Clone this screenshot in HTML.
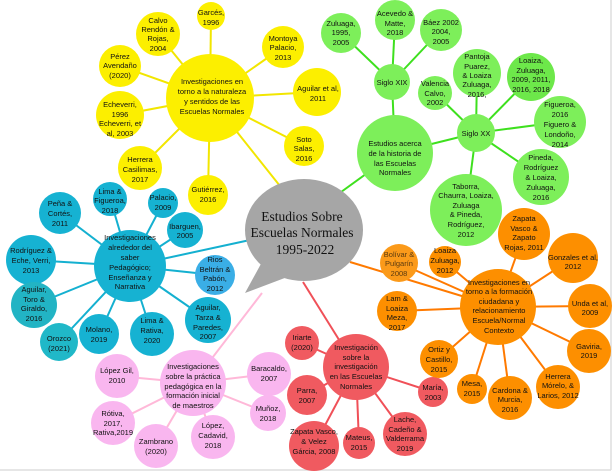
<!DOCTYPE html>
<html><head><meta charset="utf-8"><style>
html,body{margin:0;padding:0;background:#fff;}
svg{display:block;}
text{font-family:"Liberation Sans",sans-serif;font-size:7.5px;fill:#111;text-anchor:middle;}
.c text{font-size:7.5px}
</style></head><body>
<svg width="616" height="473" viewBox="0 0 616 473" xmlns="http://www.w3.org/2000/svg">
<rect width="616" height="473" fill="#fff"/>
<line x1="611" y1="0" x2="611" y2="470" stroke="#ddd" stroke-width="1.5"/>
<line x1="0" y1="470" x2="611" y2="470" stroke="#ddd" stroke-width="1.5"/>

<!-- yellow lines -->
<g stroke="#f2e600" stroke-width="2">
<line x1="210" y1="98" x2="280" y2="186"/>
<line x1="210" y1="98" x2="211" y2="15"/>
<line x1="210" y1="98" x2="158" y2="34"/>
<line x1="210" y1="98" x2="283" y2="47"/>
<line x1="210" y1="98" x2="120" y2="66"/>
<line x1="210" y1="98" x2="317" y2="92"/>
<line x1="210" y1="98" x2="120" y2="115"/>
<line x1="210" y1="98" x2="304" y2="146"/>
<line x1="210" y1="98" x2="140" y2="168"/>
<line x1="210" y1="98" x2="208" y2="195"/>
</g>
<!-- green lines -->
<g stroke="#3ee01e" stroke-width="2">
<line x1="395" y1="153" x2="330" y2="200"/>
<line x1="395" y1="153" x2="392" y2="82"/>
<line x1="395" y1="153" x2="476" y2="133"/>
<line x1="392" y1="82" x2="341" y2="33"/>
<line x1="392" y1="82" x2="395" y2="20"/>
<line x1="392" y1="82" x2="441" y2="30"/>
<line x1="476" y1="133" x2="435" y2="93"/>
<line x1="476" y1="133" x2="477" y2="73"/>
<line x1="476" y1="133" x2="531" y2="77"/>
<line x1="476" y1="133" x2="560" y2="122"/>
<line x1="476" y1="133" x2="541" y2="177"/>
<line x1="476" y1="133" x2="466" y2="210"/>
</g>
<!-- blue lines -->
<g stroke="#14b0d0" stroke-width="2">
<line x1="130" y1="266" x2="250" y2="240"/>
<line x1="130" y1="266" x2="110" y2="198"/>
<line x1="130" y1="266" x2="163" y2="203"/>
<line x1="130" y1="266" x2="185" y2="230"/>
<line x1="130" y1="266" x2="60" y2="213"/>
<line x1="130" y1="266" x2="31" y2="260"/>
<line x1="130" y1="266" x2="34" y2="305"/>
<line x1="130" y1="266" x2="59" y2="342"/>
<line x1="130" y1="266" x2="99" y2="335"/>
<line x1="130" y1="266" x2="152" y2="334"/>
<line x1="130" y1="266" x2="208" y2="320"/>
<line x1="130" y1="266" x2="215" y2="275"/>
</g>
<!-- pink lines -->
<g stroke="#ffb8d8" stroke-width="2">
<line x1="193" y1="383" x2="262" y2="293"/>
<line x1="193" y1="383" x2="117" y2="376"/>
<line x1="193" y1="383" x2="269" y2="374"/>
<line x1="193" y1="383" x2="113" y2="423"/>
<line x1="193" y1="383" x2="268" y2="413"/>
<line x1="193" y1="383" x2="156" y2="446"/>
<line x1="193" y1="383" x2="213" y2="437"/>
</g>
<!-- red lines -->
<g stroke="#f05058" stroke-width="2">
<line x1="356" y1="367" x2="303" y2="282"/>
<line x1="356" y1="367" x2="302" y2="343"/>
<line x1="356" y1="367" x2="307" y2="395"/>
<line x1="356" y1="367" x2="314" y2="446"/>
<line x1="356" y1="367" x2="359" y2="443"/>
<line x1="356" y1="367" x2="405" y2="434"/>
<line x1="356" y1="367" x2="433" y2="392"/>
</g>
<!-- orange lines -->
<g stroke="#ff7a00" stroke-width="2">
<line x1="498" y1="307" x2="350" y2="262"/>
<line x1="498" y1="307" x2="399" y2="263"/>
<line x1="498" y1="307" x2="445" y2="262"/>
<line x1="498" y1="307" x2="524" y2="234"/>
<line x1="498" y1="307" x2="573" y2="258"/>
<line x1="498" y1="307" x2="590" y2="306"/>
<line x1="498" y1="307" x2="589" y2="351"/>
<line x1="498" y1="307" x2="558" y2="387"/>
<line x1="498" y1="307" x2="510" y2="398"/>
<line x1="498" y1="307" x2="472" y2="389"/>
<line x1="498" y1="307" x2="439" y2="359"/>
<line x1="498" y1="307" x2="397" y2="311"/>
</g>

<!-- gray bubble -->
<g fill="#a6a6a6">
<ellipse cx="304" cy="230" rx="59" ry="51"/>
<path d="M262,262 L245,293 L290,276 Z"/>
</g>
<g style="font-family:'Liberation Serif',serif;font-size:13.5px">
<text x="302" y="221" style="font-size:13.5px;font-family:'Liberation Serif',serif">Estudios Sobre</text>
<text x="302" y="237" style="font-size:13.5px;font-family:'Liberation Serif',serif">Escuelas Normales</text>
<text x="305" y="254" style="font-size:13.5px;font-family:'Liberation Serif',serif">1995-2022</text>
</g>

<!-- yellow nodes -->
<g fill="#fcef00">
<circle cx="210" cy="98" r="44"/>
<circle cx="211" cy="16" r="14"/>
<circle cx="158" cy="34" r="22"/>
<circle cx="283" cy="47" r="21"/>
<circle cx="120" cy="66" r="21"/>
<circle cx="317" cy="92" r="24"/>
<circle cx="120" cy="115" r="24"/>
<circle cx="304" cy="146" r="20"/>
<circle cx="140" cy="168" r="22"/>
<circle cx="208" cy="195" r="20"/>
</g>
<text x="212" y="84">Investigaciones en</text>
<text x="212" y="94">torno a la naturaleza</text>
<text x="212" y="104">y sentidos de las</text>
<text x="212" y="114">Escuelas Normales</text>
<text x="211" y="15">Garcés,</text><text x="211" y="25">1996</text>
<text x="158" y="23">Calvo</text><text x="158" y="32">Rendón &amp;</text><text x="158" y="41">Rojas,</text><text x="158" y="51">2004</text>
<text x="283" y="41">Montoya</text><text x="283" y="50">Palacio,</text><text x="283" y="60">2013</text>
<text x="120" y="59">Pérez</text><text x="120" y="68">Avendaño</text><text x="120" y="78">(2020)</text>
<text x="318" y="91">Aguilar et al,</text><text x="318" y="101">2011</text>
<text x="120" y="107">Echeverri,</text><text x="120" y="117">1996</text><text x="120" y="126">Echeverri, et</text><text x="120" y="136">al, 2003</text>
<text x="304" y="142">Soto</text><text x="304" y="151">Salas,</text><text x="304" y="161">2016</text>
<text x="140" y="162">Herrera</text><text x="140" y="172">Casilimas,</text><text x="140" y="182">2017</text>
<text x="208" y="192">Gutiérrez,</text><text x="208" y="202">2016</text>

<!-- green nodes -->
<g fill="#7def5a">
<circle cx="395" cy="153" r="38"/>
<circle cx="392" cy="82" r="18"/>
<circle cx="476" cy="133" r="19"/>
<circle cx="341" cy="33" r="20"/>
<circle cx="395" cy="20" r="20"/>
<circle cx="441" cy="30" r="21"/>
<circle cx="435" cy="93" r="17"/>
<circle cx="477" cy="73" r="24"/>
<circle cx="531" cy="77" r="24" fill="#6de84a"/>
<circle cx="560" cy="122" r="26"/>
<circle cx="541" cy="177" r="28"/>
<circle cx="466" cy="210" r="36"/>
</g>
<text x="395" y="146">Estudios acerca</text><text x="395" y="156">de la historia de</text><text x="395" y="166">las Escuelas</text><text x="395" y="175">Normales</text>
<text x="392" y="85">Siglo XIX</text>
<text x="476" y="136">Siglo XX</text>
<text x="341" y="26">Zuluaga,</text><text x="341" y="35">1995,</text><text x="341" y="45">2005</text>
<text x="395" y="16">Acevedo &amp;</text><text x="395" y="26">Matte,</text><text x="395" y="35">2018</text>
<text x="441" y="25">Báez 2002</text><text x="441" y="34">2004,</text><text x="441" y="44">2005</text>
<text x="435" y="86">Valencia</text><text x="435" y="96">Calvo,</text><text x="435" y="105">2002</text>
<text x="477" y="59">Pantoja</text><text x="477" y="69">Puarez,</text><text x="477" y="78">&amp; Loaiza</text><text x="477" y="87">Zuluaga,</text><text x="477" y="97">2016,</text>
<text x="531" y="63">Loaiza,</text><text x="531" y="73">Zuluaga,</text><text x="531" y="82">2009, 2011,</text><text x="531" y="92">2016, 2018</text>
<text x="560" y="107">Figueroa,</text><text x="560" y="117">2016</text><text x="560" y="127">Figuero &amp;</text><text x="560" y="137">Londoño,</text><text x="560" y="147">2014</text>
<text x="541" y="160">Pineda,</text><text x="541" y="170">Rodríguez</text><text x="541" y="180">&amp; Loaiza,</text><text x="541" y="190">Zuluaga,</text><text x="541" y="200">2016</text>
<text x="466" y="189">Taborra,</text><text x="466" y="198">Chaurra, Loaiza,</text><text x="466" y="208">Zuluaga</text><text x="466" y="217">&amp; Pineda,</text><text x="466" y="227">Rodríguez,</text><text x="466" y="237">2012</text>

<!-- blue nodes -->
<g fill="#16b2d2">
<circle cx="130" cy="266" r="36"/>
<circle cx="110" cy="199" r="17"/>
<circle cx="163" cy="203" r="15"/>
<circle cx="185" cy="230" r="18"/>
<circle cx="60" cy="213" r="21"/>
<circle cx="31" cy="260" r="25"/>
<circle cx="34" cy="305" r="23" fill="#22b4c4"/>
<circle cx="59" cy="342" r="19" fill="#20b8c8"/>
<circle cx="99" cy="334" r="20"/>
<circle cx="152" cy="334" r="22"/>
<circle cx="208" cy="320" r="23"/>
<circle cx="215" cy="275" r="20" fill="#3aaee6"/>
</g>
<text x="130" y="240">Investigaciones</text><text x="130" y="250">alrededor del</text><text x="130" y="260">saber</text><text x="130" y="270">Pedagógico;</text><text x="130" y="280">Enseñanza y</text><text x="130" y="289">Narrativa</text>
<text x="110" y="194">Lima &amp;</text><text x="110" y="203">Figueroa,</text><text x="110" y="213">2018</text>
<text x="163" y="200">Palacio,</text><text x="163" y="210">2009</text>
<text x="185" y="229">Ibarguen,</text><text x="185" y="238">2005</text>
<text x="60" y="206">Peña &amp;</text><text x="60" y="216">Cortés,</text><text x="60" y="226">2011</text>
<text x="31" y="253">Rodríguez &amp;</text><text x="31" y="263">Eche, Verri,</text><text x="31" y="273">2013</text>
<text x="34" y="292">Aguilar,</text><text x="34" y="302">Toro &amp;</text><text x="34" y="311">Giraldo,</text><text x="34" y="321">2016</text>
<text x="59" y="341">Orozco</text><text x="59" y="351">(2021)</text>
<text x="99" y="332">Molano,</text><text x="99" y="342">2019</text>
<text x="152" y="323">Lima &amp;</text><text x="152" y="333">Rativa,</text><text x="152" y="343">2020</text>
<text x="208" y="310">Aguilar,</text><text x="208" y="320">Tarza &amp;</text><text x="208" y="330">Paredes,</text><text x="208" y="339">2007</text>
<text x="215" y="262">Rios</text><text x="215" y="272">Beltrán &amp;</text><text x="215" y="281">Pabón,</text><text x="215" y="291">2012</text>

<!-- pink nodes -->
<g fill="#f9b6ef">
<circle cx="193" cy="383" r="33"/>
<circle cx="117" cy="376" r="22"/>
<circle cx="269" cy="374" r="22"/>
<circle cx="113" cy="423" r="22"/>
<circle cx="268" cy="413" r="18"/>
<circle cx="156" cy="446" r="22"/>
<circle cx="213" cy="437" r="22"/>
</g>
<text x="193" y="369">Investigaciones</text><text x="193" y="379">sobre la práctica</text><text x="193" y="389">pedagógica en la</text><text x="193" y="398">formación inicial</text><text x="193" y="408">de maestros</text>
<text x="117" y="373">López Gil,</text><text x="117" y="383">2010</text>
<text x="269" y="371">Baracaldo,</text><text x="269" y="381">2007</text>
<text x="113" y="416">Rótiva,</text><text x="113" y="426">2017,</text><text x="113" y="435">Rativa,2019</text>
<text x="268" y="411">Muñoz,</text><text x="268" y="421">2018</text>
<text x="156" y="444">Zambrano</text><text x="156" y="454">(2020)</text>
<text x="213" y="428">López,</text><text x="213" y="438">Cadavid,</text><text x="213" y="448">2018</text>

<!-- red nodes -->
<g fill="#f05a60">
<circle cx="356" cy="367" r="33"/>
<circle cx="302" cy="343" r="17"/>
<circle cx="307" cy="395" r="20"/>
<circle cx="314" cy="446" r="25"/>
<circle cx="359" cy="443" r="16"/>
<circle cx="405" cy="434" r="22"/>
<circle cx="433" cy="392" r="15"/>
</g>
<text x="356" y="350">Investigación</text><text x="356" y="360">sobre la</text><text x="356" y="369">investigación</text><text x="356" y="379">en las Escuelas</text><text x="356" y="389">Normales</text>
<text x="302" y="340">Iriarte</text><text x="302" y="350">(2020)</text>
<text x="307" y="393">Parra,</text><text x="307" y="403">2007</text>
<text x="314" y="434">Zapata Vasco,</text><text x="314" y="444">&amp; Velez</text><text x="314" y="454">Gárcia, 2008</text>
<text x="359" y="440">Mateus,</text><text x="359" y="450">2015</text>
<text x="405" y="422">Lache,</text><text x="405" y="432">Cadeño &amp;</text><text x="405" y="441">Valderrama</text><text x="405" y="451">2019</text>
<text x="433" y="390">María,</text><text x="433" y="400">2003</text>

<!-- orange nodes -->
<g fill="#fd8f00">
<circle cx="498" cy="307" r="38"/>
<circle cx="399" cy="263" r="19" fill="#fb9a1a"/>
<circle cx="445" cy="262" r="16"/>
<circle cx="524" cy="234" r="26"/>
<circle cx="573" cy="258" r="25"/>
<circle cx="590" cy="306" r="22"/>
<circle cx="589" cy="351" r="22"/>
<circle cx="558" cy="387" r="22"/>
<circle cx="510" cy="398" r="22"/>
<circle cx="472" cy="389" r="15"/>
<circle cx="439" cy="359" r="19"/>
<circle cx="397" cy="311" r="20"/>
</g>
<text x="499" y="285">Investigaciones en</text><text x="499" y="294">torno a la formación</text><text x="499" y="304">ciudadana y</text><text x="499" y="313">relacionamiento</text><text x="499" y="323">Escuela/Normal</text><text x="499" y="333">Contexto</text>
<text x="399" y="257" style="fill:#5a3a10">Bolívar &amp;</text><text x="399" y="266" style="fill:#5a3a10">Pulgarín</text><text x="399" y="276" style="fill:#5a3a10">2008</text>
<text x="445" y="253">Loaiza</text><text x="445" y="263">Zuluaga,</text><text x="445" y="273">2012</text>
<text x="524" y="221">Zapata</text><text x="524" y="231">Vasco &amp;</text><text x="524" y="240">Zapato</text><text x="524" y="250">Rojas, 2011</text>
<text x="573" y="260">Gonzales et al,</text><text x="573" y="269">2012</text>
<text x="590" y="306">Unda et al,</text><text x="590" y="315">2009</text>
<text x="589" y="349">Gaviria,</text><text x="589" y="358">2019</text>
<text x="558" y="379">Herrera</text><text x="558" y="388">Mórelo, &amp;</text><text x="558" y="398">Larios, 2012</text>
<text x="510" y="393">Cardona &amp;</text><text x="510" y="402">Murcia,</text><text x="510" y="412">2016</text>
<text x="472" y="386">Mesa,</text><text x="472" y="396">2015</text>
<text x="439" y="352">Ortiz y</text><text x="439" y="362">Castillo,</text><text x="439" y="372">2015</text>
<text x="397" y="301">Lam &amp;</text><text x="397" y="311">Loaiza</text><text x="397" y="320">Meza,</text><text x="397" y="330">2017</text>
</svg>
</body></html>
